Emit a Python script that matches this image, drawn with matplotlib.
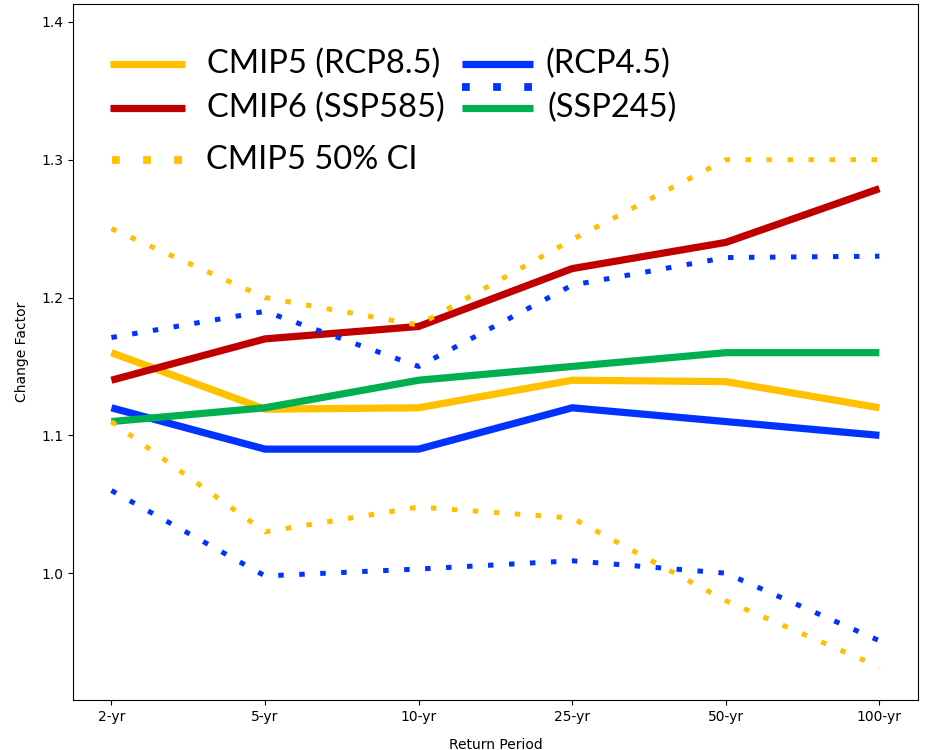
import matplotlib.pyplot as plt

# return periods on the x axis
periods = ['2-yr', '5-yr', '10-yr', '25-yr', '50-yr', '100-yr']

# median change factors
cmip5_rcp85 = [1.16, 1.119, 1.12, 1.14, 1.139, 1.12]
cmip6_ssp585 = [1.14, 1.17, 1.179, 1.221, 1.24, 1.279]
cmip5_rcp45 = [1.12, 1.09, 1.09, 1.12, 1.11, 1.10]
cmip6_ssp245 = [1.11, 1.12, 1.14, 1.15, 1.16, 1.16]

# 50% confidence interval bounds
rcp85_ci_upper = [1.25, 1.20, 1.18, 1.242, 1.30, 1.30]
rcp85_ci_lower = [1.11, 1.03, 1.048, 1.04, 0.98, 0.932]
rcp45_ci_upper = [1.171, 1.19, 1.15, 1.209, 1.229, 1.23]
rcp45_ci_lower = [1.06, 0.998, 1.003, 1.009, 1.0, 0.951]

YELLOW = '#FFC000'
RED = '#C00000'
BLUE = '#0033FF'
GREEN = '#00B050'

SOLID = dict(lw=5.2, solid_capstyle='butt')
DOTTED = dict(lw=3.6, ls=(0, (1.1, 3.1)), dash_capstyle='butt')

fig = plt.figure(figsize=(9.28, 7.5), dpi=100)
ax = fig.add_axes([0.0787, 0.0667, 0.9103, 0.928])

x = range(len(periods))
ax.plot(x, cmip5_rcp85, color=YELLOW, **SOLID)
ax.plot(x, cmip6_ssp585, color=RED, **SOLID)
ax.plot(x, cmip5_rcp45, color=BLUE, **SOLID)
ax.plot(x, cmip6_ssp245, color=GREEN, **SOLID)

# dotted CI lines
ax.plot(x, rcp85_ci_upper, color=YELLOW, **DOTTED)
ax.plot(x, rcp85_ci_lower, color=YELLOW, **DOTTED)
ax.plot(x, rcp45_ci_upper, color=BLUE, **DOTTED)
ax.plot(x, rcp45_ci_lower, color=BLUE, **DOTTED)

ax.set_xticks(list(x))
ax.set_xticklabels(periods)
ax.set_xlim(-0.25, 5.25)
ax.set_ylim(0.908, 1.413)
ax.set_yticks([1.0, 1.1, 1.2, 1.3, 1.4])
ax.set_xlabel('Return Period', labelpad=10)
ax.set_ylabel('Change Factor', labelpad=9)

# hand-built legend, laid out like the original
leg_font = dict(fontsize=23.5, family='Lato', va='center', transform=ax.transAxes)
leg_solid = dict(lw=5.2, solid_capstyle='butt', transform=ax.transAxes)
leg_dot = dict(lw=5.6, ls=(0, (1, 3)), dash_capstyle='butt', transform=ax.transAxes)
ax.plot([0.044, 0.133], [0.914, 0.914], color=YELLOW, **leg_solid)
ax.text(0.159, 0.914, 'CMIP5 (RCP8.5)', **leg_font)
ax.plot([0.044, 0.133], [0.851, 0.851], color=RED, **leg_solid)
ax.text(0.159, 0.851, 'CMIP6 (SSP585)', **leg_font)
ax.plot([0.046, 0.131], [0.776, 0.776], color=YELLOW, **leg_dot)
ax.text(0.157, 0.776, 'CMIP5 50% CI', **leg_font)
ax.plot([0.460, 0.545], [0.914, 0.914], color=BLUE, **leg_solid)
ax.plot([0.460, 0.545], [0.881, 0.881], color=BLUE, **leg_dot)
ax.text(0.559, 0.914, '(RCP4.5)', **leg_font)
ax.plot([0.460, 0.545], [0.851, 0.851], color=GREEN, **leg_solid)
ax.text(0.562, 0.851, '(SSP245)', **leg_font)

fig.savefig('out.png', dpi=100)
